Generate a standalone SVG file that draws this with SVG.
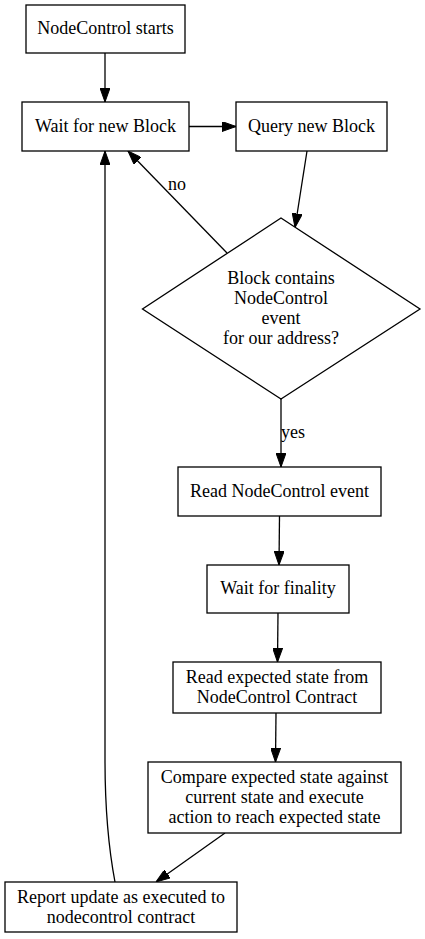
<svg xmlns="http://www.w3.org/2000/svg" width="425" height="939" viewBox="0 0 425 939">
<style>
.box{fill:#fff;stroke:#000;stroke-width:1.3}
.e{fill:none;stroke:#000;stroke-width:1.3;marker-end:url(#arr)}
text{font-family:"Liberation Serif","Times New Roman",serif;font-size:18px;fill:#000;text-anchor:middle}
</style>
<defs>
<marker id="arr" markerUnits="userSpaceOnUse" markerWidth="14" markerHeight="10" refX="14" refY="5" orient="auto">
<path d="M0,0 L14,5 L0,10 z" fill="#000" stroke="#000" stroke-width="1"/>
</marker>
</defs>
<rect width="425" height="939" fill="#fff"/>
<g id="edges">
<path class="e" d="M105,53 L105,102"/>
<path class="e" d="M189,126.5 L236,126.5"/>
<path class="e" d="M307,151 L295,227.5"/>
<path class="e" d="M227,253 L128,151"/>
<text x="177" y="190">no</text>
<path class="e" d="M281,399 L281,467"/>
<text x="293" y="438">yes</text>
<path class="e" d="M279.5,516 L279,565"/>
<path class="e" d="M278,613 L277.5,662"/>
<path class="e" d="M276,713 L275.5,762"/>
<path class="e" d="M225,833 L156,882"/>
<path class="e" d="M115,882 C108,845 105,800 105,760 L105,151"/>
</g>
<g id="n_start">
<rect class="box" x="26" y="5" width="159" height="48"/>
<text x="105.5" y="34.2">NodeControl starts</text>
</g>
<g id="n_wait">
<rect class="box" x="22" y="102" width="167" height="49"/>
<text x="105.5" y="131.7">Wait for new Block</text>
</g>
<g id="n_query">
<rect class="box" x="236" y="102" width="151" height="49"/>
<text x="311.5" y="131.7">Query new Block</text>
</g>
<g id="n_decision">
<polygon class="box" points="281,218 420,309 281,399 142.5,309"/>
<text x="281" y="284.2">Block contains</text>
<text x="281" y="304.2">NodeControl</text>
<text x="281" y="324.2">event</text>
<text x="281" y="344.2">for our address?</text>
</g>
<g id="n_readevent">
<rect class="box" x="178" y="467" width="203" height="49"/>
<text x="279.5" y="496.7">Read NodeControl event</text>
</g>
<g id="n_finality">
<rect class="box" x="207" y="565" width="142" height="48"/>
<text x="278" y="594.2">Wait for finality</text>
</g>
<g id="n_readstate">
<rect class="box" x="173" y="662" width="208" height="51"/>
<text x="277" y="682.7">Read expected state from</text>
<text x="277" y="702.7">NodeControl Contract</text>
</g>
<g id="n_compare">
<rect class="box" x="148" y="762" width="253" height="71"/>
<text x="274.5" y="782.7">Compare expected state against</text>
<text x="274.5" y="802.7">current state and execute</text>
<text x="274.5" y="822.7">action to reach expected state</text>
</g>
<g id="n_report">
<rect class="box" x="5" y="882" width="232" height="50"/>
<text x="121" y="902.7">Report update as executed to</text>
<text x="121" y="922.7">nodecontrol contract</text>
</g>
</svg>
